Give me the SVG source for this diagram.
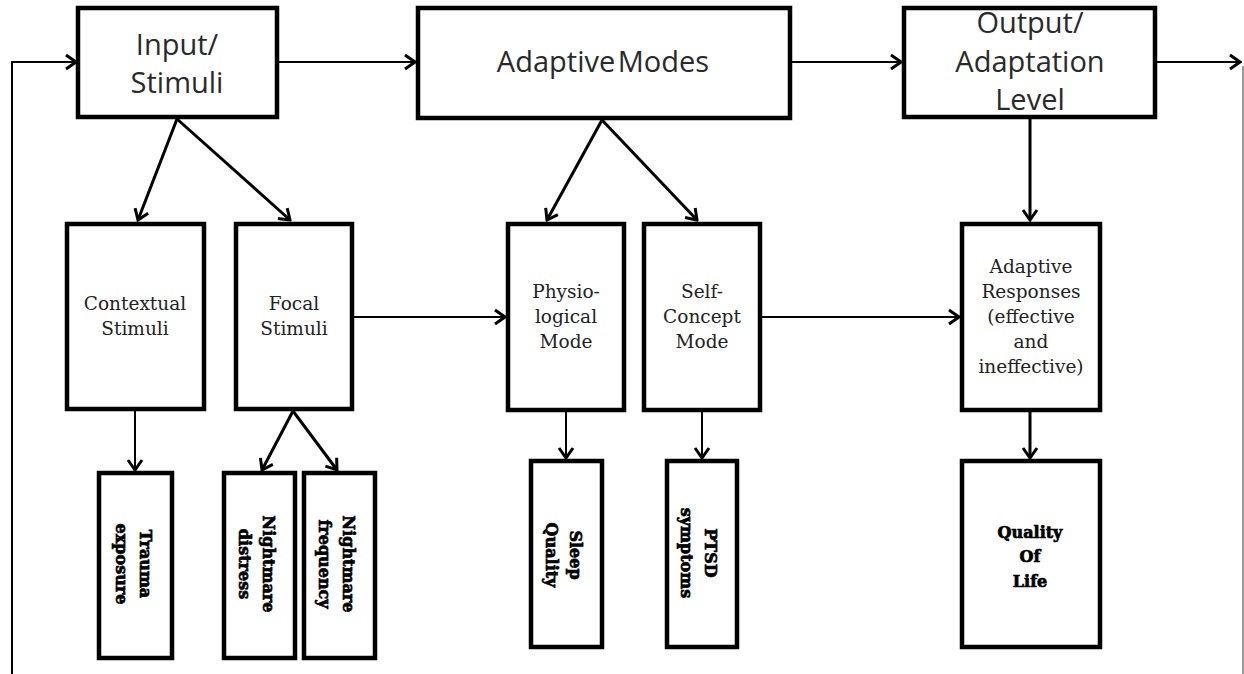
<svg xmlns="http://www.w3.org/2000/svg" width="1244" height="674" viewBox="0 0 1244 674">
<style>
.box{fill:#fff;stroke:#000;stroke-width:4.5}
.t1{font-family:"Open Sans","Liberation Sans",sans-serif;font-size:29px;fill:#2a2a2a;text-anchor:middle}
.t2{font-family:"DejaVu Serif","Liberation Serif",serif;font-size:18.5px;fill:#222;text-anchor:middle}
.t3{font-family:"DejaVu Serif","Liberation Serif",serif;font-size:16px;font-weight:bold;fill:#000;stroke:#000;stroke-width:0.7;text-anchor:middle}
.c{fill:none;stroke:#000;stroke-width:2}
.cb{fill:none;stroke:#000;stroke-width:3}
</style>
<defs>
<marker id="ah" markerUnits="userSpaceOnUse" viewBox="-12 -9 14 18" markerWidth="14" markerHeight="18" refX="0" refY="0" orient="auto">
<path d="M-10,-7 L0,0 L-10,7" fill="none" stroke="#000" stroke-width="3"/>
</marker>
</defs>
<rect width="1244" height="674" fill="#fff"/>
<g id="connectors">
<path class="c" d="M12,674 V62 H76" marker-end="url(#ah)"/>
<path class="c" d="M279,62 H415" marker-end="url(#ah)"/>
<path class="c" d="M792,62 H901" marker-end="url(#ah)"/>
<path class="c" d="M1157,62 H1240" marker-end="url(#ah)"/>
<line x1="1243" y1="66" x2="1243" y2="674" stroke="#555" stroke-width="1.2"/>
<path class="cb" d="M177,119 L138,220" marker-end="url(#ah)"/>
<path class="cb" d="M177,119 L290,220" marker-end="url(#ah)"/>
<path class="cb" d="M602,120 L547,220" marker-end="url(#ah)"/>
<path class="cb" d="M602,120 L697,220" marker-end="url(#ah)"/>
<path class="cb" d="M1030,119 V220" marker-end="url(#ah)"/>
<path class="c" d="M354,317 H505" marker-end="url(#ah)"/>
<path class="c" d="M762,317 H959" marker-end="url(#ah)"/>
<path class="c" d="M135,411 V470" marker-end="url(#ah)"/>
<path class="cb" d="M293,411 L262,470" marker-end="url(#ah)"/>
<path class="cb" d="M293,411 L337,470" marker-end="url(#ah)"/>
<path class="c" d="M566,412 V458" marker-end="url(#ah)"/>
<path class="c" d="M702,412 V458" marker-end="url(#ah)"/>
<path class="cb" d="M1030,412 V458" marker-end="url(#ah)"/>
</g>
<g id="input">
<rect class="box" x="78" y="8" width="199" height="109"/>
<text class="t1" x="177" y="55">Input/</text>
<text class="t1" x="177" y="93">Stimuli</text>
</g>
<g id="adaptive-modes">
<rect class="box" x="418" y="8" width="372" height="110"/>
<text class="t1" x="603" y="72" word-spacing="-5">Adaptive Modes</text>
</g>
<g id="output">
<rect class="box" x="904" y="8" width="251" height="109"/>
<text class="t1" x="1030" y="33">Output/</text>
<text class="t1" x="1030" y="72">Adaptation</text>
<text class="t1" x="1030" y="110">Level</text>
</g>
<g id="contextual">
<rect class="box" x="67" y="224" width="137" height="185"/>
<text class="t2" x="135" y="310">Contextual</text>
<text class="t2" x="135" y="335">Stimuli</text>
</g>
<g id="focal">
<rect class="box" x="236" y="224" width="116" height="185"/>
<text class="t2" x="294" y="310">Focal</text>
<text class="t2" x="294" y="335">Stimuli</text>
</g>
<g id="physiological">
<rect class="box" x="508" y="224" width="116" height="186"/>
<text class="t2" x="566" y="298">Physio-</text>
<text class="t2" x="566" y="323">logical</text>
<text class="t2" x="566" y="348">Mode</text>
</g>
<g id="self-concept">
<rect class="box" x="644" y="224" width="116" height="186"/>
<text class="t2" x="702" y="298">Self-</text>
<text class="t2" x="702" y="323">Concept</text>
<text class="t2" x="702" y="348">Mode</text>
</g>
<g id="adaptive-responses">
<rect class="box" x="962" y="224" width="138" height="186"/>
<text class="t2" x="1031" y="273">Adaptive</text>
<text class="t2" x="1031" y="298">Responses</text>
<text class="t2" x="1031" y="323">(effective</text>
<text class="t2" x="1031" y="348">and</text>
<text class="t2" x="1031" y="373">ineffective)</text>
</g>
<g id="trauma">
<rect class="box" x="99" y="473" width="73" height="185"/>
<g transform="translate(135,564) rotate(90)">
<text class="t3" x="0" y="-5">Trauma</text>
<text class="t3" x="0" y="19">exposure</text>
</g>
</g>
<g id="nightmare-distress">
<rect class="box" x="224" y="473" width="71" height="185"/>
<g transform="translate(258,564) rotate(90)">
<text class="t3" x="0" y="-5">Nightmare</text>
<text class="t3" x="0" y="19">distress</text>
</g>
</g>
<g id="nightmare-frequency">
<rect class="box" x="304" y="473" width="71" height="185"/>
<g transform="translate(338,564) rotate(90)">
<text class="t3" x="0" y="-5">Nightmare</text>
<text class="t3" x="0" y="19">frequency</text>
</g>
</g>
<g id="sleep-quality">
<rect class="box" x="531" y="461" width="71" height="186"/>
<g transform="translate(565,555) rotate(90)">
<text class="t3" x="0" y="-5">Sleep</text>
<text class="t3" x="0" y="19">Quality</text>
</g>
</g>
<g id="ptsd">
<rect class="box" x="667" y="461" width="70" height="186"/>
<g transform="translate(700,553) rotate(90)">
<text class="t3" x="0" y="-5">PTSD</text>
<text class="t3" x="0" y="19">symptoms</text>
</g>
</g>
<g id="quality-of-life">
<rect class="box" x="962" y="461" width="138" height="186"/>
<text class="t3" x="1030" y="538">Quality</text>
<text class="t3" x="1030" y="562">Of</text>
<text class="t3" x="1030" y="587">Life</text>
</g>
</svg>
